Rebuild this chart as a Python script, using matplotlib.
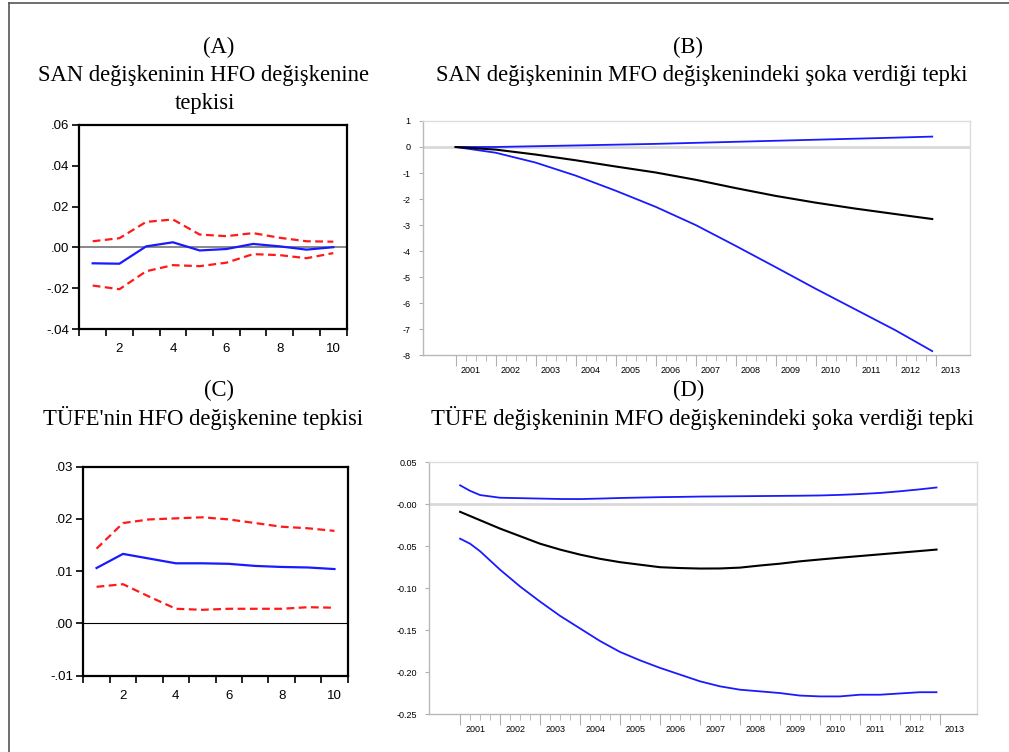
import numpy as np
import matplotlib.pyplot as plt
from matplotlib.lines import Line2D

# (A) SAN -> HFO, periods 1..10
periods = [1, 2, 3, 4, 5, 6, 7, 8, 9, 10]
a_resp = [-0.0078, -0.0080, 0.0005, 0.0025, -0.0015, -0.0008, 0.0017, 0.0005, -0.0011, 0.0001]
a_up = [0.0030, 0.0045, 0.0125, 0.0137, 0.0063, 0.0055, 0.0070, 0.0047, 0.0030, 0.0028]
a_lo = [-0.0187, -0.0205, -0.0117, -0.0087, -0.0092, -0.0075, -0.0033, -0.0038, -0.0053, -0.0028]

# (C) TUFE -> HFO
c_resp = [0.0106, 0.0133, 0.0124, 0.0115, 0.0115, 0.0114, 0.0110, 0.0108, 0.0107, 0.0104]
c_up = [0.0143, 0.0192, 0.0199, 0.0201, 0.0203, 0.0199, 0.0192, 0.0185, 0.0182, 0.0177]
c_lo = [0.0070, 0.0075, 0.0051, 0.0028, 0.0026, 0.0028, 0.0028, 0.0028, 0.0031, 0.0030]

# (B) SAN -> MFO shock, months since 2001-01
b_months = [0, 12, 24, 36, 48, 60, 72, 84, 96, 108, 120, 132, 143]
b_resp = [0.0, -0.10, -0.29, -0.51, -0.75, -0.98, -1.26, -1.58, -1.88, -2.14, -2.37, -2.58, -2.77]
b_up = [0.0, 0.0, 0.03, 0.06, 0.09, 0.12, 0.16, 0.20, 0.24, 0.28, 0.32, 0.36, 0.40]
b_lo = [0.0, -0.22, -0.60, -1.10, -1.68, -2.30, -3.00, -3.80, -4.62, -5.45, -6.25, -7.05, -7.85]

# (D) TUFE -> MFO shock
d_months = [0, 3, 6, 12, 18, 24, 30, 36, 42, 48, 54, 60, 66, 72, 78, 84, 90, 96,
            102, 108, 114, 120, 126, 132, 138, 143]
d_resp = [-0.009, -0.014, -0.019, -0.029, -0.038, -0.047, -0.054, -0.060, -0.065, -0.069,
          -0.072, -0.075, -0.076, -0.0766, -0.0765, -0.0755, -0.073, -0.0708, -0.068, -0.0658,
          -0.0637, -0.0617, -0.0597, -0.0577, -0.0557, -0.054]
d_up = [0.0226, 0.016, 0.011, 0.0078, 0.0073, 0.0068, 0.0063, 0.0062, 0.0068, 0.0075,
        0.0080, 0.0085, 0.0088, 0.0092, 0.0094, 0.0096, 0.0098, 0.0100, 0.0102, 0.0105,
        0.0112, 0.0122, 0.0135, 0.0155, 0.0178, 0.0200]
d_lo = [-0.041, -0.047, -0.056, -0.078, -0.098, -0.116, -0.133, -0.148, -0.163, -0.176,
        -0.186, -0.195, -0.203, -0.211, -0.217, -0.221, -0.223, -0.225, -0.228, -0.229,
        -0.229, -0.227, -0.227, -0.2255, -0.224, -0.224]

years = list(range(2001, 2014))

BLUE = '#1a1aff'
RED = '#ff1a1a'

fig = plt.figure(figsize=(10.09, 7.52), dpi=100)

# outer frame (top + left only)
fig.add_artist(Line2D([9 / 1009, 9 / 1009], [0, 1 - 3 / 752], transform=fig.transFigure, color='#555555', lw=1.2))
fig.add_artist(Line2D([9 / 1009, 1], [1 - 3 / 752, 1 - 3 / 752], transform=fig.transFigure, color='#555555', lw=1.2))


def eviews_panel(ax, resp, up, lo, ylim, yticks, ylabels, zero_color, zero_lw):
    ax.axhline(0, color=zero_color, lw=zero_lw, zorder=1)
    ax.plot(periods, up, color=RED, lw=1.6, ls=(0, (3.5, 2)), zorder=2)
    ax.plot(periods, lo, color=RED, lw=1.6, ls=(0, (3.5, 2)), zorder=2)
    ax.plot(periods, resp, color=BLUE, lw=1.6, zorder=3)
    ax.set_xlim(0.5, 10.5)
    ax.set_ylim(*ylim)
    ax.set_yticks(yticks)
    ax.set_yticklabels(ylabels, fontsize=9.5, family='Liberation Sans')
    ax.set_xticks([2, 4, 6, 8, 10])
    ax.set_xticklabels(['2', '4', '6', '8', '10'], fontsize=9.5, family='Liberation Sans')
    ax.set_xticks(np.arange(0.5, 11, 1), minor=True)
    ax.tick_params(axis='x', which='major', length=0, pad=10)
    ax.tick_params(axis='x', which='minor', length=5, width=1.2, direction='out')
    ax.tick_params(axis='y', length=5, width=1.2, direction='out', pad=2)
    for s in ax.spines.values():
        s.set_linewidth(1.6)


def excel_panel(ax, months, resp, up, lo, ylim, yticks, ylabels, xlim):
    t = [2001 + m / 12 for m in months]
    ax.axhline(0, color='#d9d9d9', lw=2, zorder=1)
    ax.plot(t, up, color=BLUE, lw=1.3, zorder=3)
    ax.plot(t, lo, color=BLUE, lw=1.3, zorder=3)
    ax.plot(t, resp, color='black', lw=1.5, zorder=3)
    ax.set_xlim(*xlim)
    ax.set_ylim(*ylim)
    ax.set_yticks(yticks)
    ax.set_yticklabels(ylabels, fontsize=6.5, family=['Liberation Sans Narrow', 'Liberation Sans'])
    ax.set_xticks(years)
    ax.set_xticklabels([])
    ax.set_xticks([y + q / 4 for y in years[:-1] for q in (1, 2, 3)], minor=True)
    ax.tick_params(axis='x', which='major', length=8, color='#b0b0b0', direction='out')
    ax.tick_params(axis='x', which='minor', length=4, color='#b0b0b0', direction='out')
    ax.tick_params(axis='y', length=3, color='#b0b0b0', direction='out', pad=6)
    for y in years:
        ax.text(y + 0.38, -0.045, str(y), transform=ax.get_xaxis_transform(), ha='center', va='top',
                fontsize=6.5, family=['Liberation Sans Narrow', 'Liberation Sans'])
    ax.spines['left'].set_color('#b8b8b8')
    ax.spines['bottom'].set_color('#b8b8b8')
    ax.spines['top'].set_color('#dcdcdc')
    ax.spines['right'].set_color('#dcdcdc')
    for s in ax.spines.values():
        s.set_linewidth(1.0)


axA = fig.add_axes([0.0786, 0.5625, 0.265, 0.2713])
eviews_panel(axA, a_resp, a_up, a_lo, (-0.04, 0.06), [-0.04, -0.02, 0, 0.02, 0.04, 0.06],
             ['-.04', '-.02', '.00', '.02', '.04', '.06'], '#888888', 1.4)

axC = fig.add_axes([0.0826, 0.1015, 0.262, 0.278])
eviews_panel(axC, c_resp, c_up, c_lo, (-0.01, 0.03), [-0.01, 0, 0.01, 0.02, 0.03],
             ['-.01', '.00', '.01', '.02', '.03'], 'black', 0.8)

axB = fig.add_axes([0.4195, 0.5279, 0.5418, 0.3112])
excel_panel(axB, b_months, b_resp, b_up, b_lo, (-8, 1), list(range(-8, 2)),
            [str(v) for v in range(-8, 2)], (2000.19, 2013.86))

axD = fig.add_axes([0.4255, 0.0505, 0.5428, 0.3347])
excel_panel(axD, d_months, d_resp, d_up, d_lo, (-0.25, 0.05),
            [-0.25, -0.20, -0.15, -0.10, -0.05, 0.0, 0.05],
            ['-0.25', '-0.20', '-0.15', '-0.10', '-0.05', '-0.00', '0.05'], (2000.23, 2013.93))

# titles
tkw = dict(fontsize=16.3, family='Liberation Serif', ha='center', va='center')
fig.text(219 / 1009, 1 - 47 / 752, '(A)', **tkw)
fig.text(204 / 1009, 1 - 75 / 752, 'SAN değişkeninin HFO değişkenine', **tkw)
fig.text(205 / 1009, 1 - 103 / 752, 'tepkisi', **tkw)
fig.text(688 / 1009, 1 - 47 / 752, '(B)', **tkw)
fig.text(702 / 1009, 1 - 75 / 752, 'SAN değişkeninin MFO değişkenindeki şoka verdiği tepki', **tkw)
fig.text(219 / 1009, 1 - 390 / 752, '(C)', **tkw)
fig.text(203 / 1009, 1 - 418 / 752, "TÜFE'nin HFO değişkenine tepkisi", **tkw)
fig.text(689 / 1009, 1 - 390 / 752, '(D)', **tkw)
fig.text(702 / 1009, 1 - 418 / 752, 'TÜFE değişkeninin MFO değişkenindeki şoka verdiği tepki', **tkw)

fig.savefig('out.png', dpi=100)
